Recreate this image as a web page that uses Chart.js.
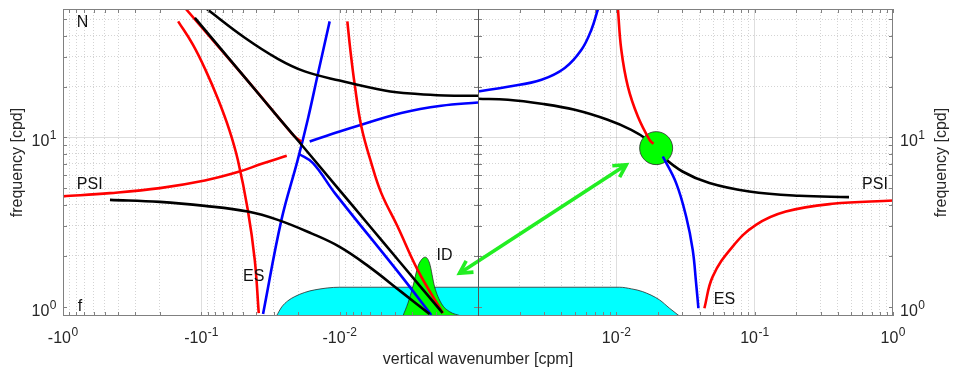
<!DOCTYPE html>
<html>
<head>
<meta charset="utf-8">
<script src="https://cdn.jsdelivr.net/npm/chart.js@4.4.1/dist/chart.umd.min.js"></script>
<style>
  html, body { margin: 0; padding: 0; background: #fff; }
  canvas { display: block; }
</style>
</head>
<body>
<canvas id="myChart" width="953" height="373"></canvas>
<script>
// vertical wavenumber k [cpm] (negative = left panel), frequency [cpd]
const blackUpperLeft = [[-0.0913, 57.5], [-0.0485, 38.9], [-0.028, 29.2], [-0.01789, 24.6], [-0.01, 21.7],
  [-0.00473, 18.97], [-0.002733, 18.06], [-0.001746, 17.72], [-0.001, 17.65]]
const blackDiagLeft = [[-0.1114, 50.9], [-0.0485, 22.65], [-0.02711, 12.85], [-0.0201, 9.63], [-0.01087, 5.285],
  [-0.006074, 2.995], [-0.003688, 1.841], [-0.001804, 0.918]]
const blackLowLeft = [[-0.4577, 4.279], [-0.1994, 4.163], [-0.0943, 3.943], [-0.04616, 3.649], [-0.028, 3.258],
  [-0.01601, 2.711], [-0.01, 2.256], [-0.006247, 1.741], [-0.003583, 1.222], [-0.00224, 0.905]]
const redDiagLeft = [[-0.1293, 57.5], [-0.0485, 22.65], [-0.02711, 12.85], [-0.02232, 10.62], [-0.02044, 9.89], [-0.0189, 9.47]]
const redSteepLeft = [[-0.1471, 48.6], [-0.1151, 35.4], [-0.0935, 25.2], [-0.07539, 16.72], [-0.06278, 11.1],
  [-0.0545, 7.38], [-0.04616, 3.734], [-0.0411, 1.889], [-0.03845, 0.914]]
const redNearLeft = [[-0.0088, 48.6], [-0.008373, 33.0], [-0.007794, 20.7], [-0.006971, 11.62], [-0.005904, 7.055],
  [-0.005, 4.688], [-0.003813, 2.974], [-0.002733, 1.649], [-0.001795, 0.914]]
const redPsiLeft = [[-1.0, 4.488], [-0.4577, 4.688], [-0.1994, 5.019], [-0.0943, 5.567], [-0.0545, 6.242],
  [-0.03657, 6.987], [-0.02413, 7.794]]
const blueEsLeft = [[-0.03579, 0.905], [-0.02636, 3.258], [-0.0201, 7.38], [-0.01702, 12.73], [-0.01441, 23.5], [-0.01181, 48.6]]
const blueUpperLeft = [[-0.01647, 9.47], [-0.01, 10.85], [-0.006971, 11.89], [-0.003583, 13.95], [-0.001843, 15.4], [-0.001, 16.11]]
const blueDiagLeft = [[-0.01977, 8.01], [-0.01559, 7.055], [-0.01087, 4.707], [-0.003688, 1.561], [-0.002178, 0.893]]

const blueUpperRight = [[0.001, 18.72], [0.001645, 19.95], [0.002879, 21.95], [0.004239, 25.75], [0.005593, 33.0],
  [0.006603, 43.4], [0.007366, 57.5]]
const blackRight = [[0.001, 16.95], [0.001645, 16.72], [0.002879, 15.83], [0.005006, 14.58], [0.008658, 12.73],
  [0.01282, 11.1], [0.01681, 9.69], [0.0194, 8.65], [0.02158, 7.72], [0.03006, 6.293], [0.04707, 5.373],
  [0.0914, 4.791], [0.2098, 4.519], [0.4808, 4.439]]
const redUpperRight = [[0.01027, 57.5], [0.01086, 33.0], [0.01212, 20.0], [0.01431, 13.31], [0.01738, 9.69], [0.01857, 9.18]]
const blueLowRight = [[0.02168, 7.72], [0.02707, 5.373], [0.03196, 3.408], [0.03566, 2.165], [0.03773, 1.375], [0.0392, 0.978]]
const redLowRight = [[0.04331, 0.978], [0.04972, 1.505], [0.0693, 2.265], [0.1022, 3.044], [0.1681, 3.649],
  [0.3645, 4.053], [1.0, 4.239]]

const cyanRegion = [[-0.02864, 0.88], [-0.02622, 0.996], [-0.02373, 1.081], [-0.02113, 1.146], [-0.01789, 1.213],
  [-0.01515, 1.256], [-0.01, 1.302], [-0.001, 1.302], [0.001, 1.302], [0.01056, 1.302], [0.01289, 1.273],
  [0.01547, 1.227], [0.02052, 1.096], [0.02423, 0.978], [0.0286, 0.88]]
const idBump = [[-0.003491, 0.88], [-0.003212, 1.047], [-0.002956, 1.313], [-0.00272, 1.725], [-0.002545, 1.908],
  [-0.002405, 1.96], [-0.00224, 1.806], [-0.002061, 1.313], [-0.001843, 1.047], [-0.001606, 0.934], [-0.001322, 0.88]]
const triad = [[0.0194, 8.65]]
const arrowEnds = [[-0.00136, 1.576], [0.0118, 6.9]]

const panelLabels = [['N', -0.723, 48.1], ['PSI', -0.641, 5.25], ['f', -0.754, 0.996], ['ES', -0.0418, 1.499],
  ['ID', -0.001746, 1.995], ['PSI', 0.741, 5.25], ['ES', 0.0604, 1.096]]

const xTickValues = [-1, -0.1, -0.01, 0.01, 0.1, 1]
const xTickLabels = [['-10', '0'], ['-10', '-1'], ['-10', '-2'], ['10', '-2'], ['10', '-1'], ['10', '0']]
const yTickValues = [1, 10]
const yTickLabels = [['10', '0'], ['10', '1']]
const yGridValues = [1, 2, 3, 4, 5, 6, 7, 8, 9, 10, 20, 30, 40, 50]
const yMin = 0.88
const yMax = 57.5
const decades = 3

const FONT = '"Liberation Sans", Arial, Helvetica, sans-serif'
const TEXT = '#262626'

// minor grid at 2..9 of each decade, both signs
const xGridValues = []
for (const s of [-1, 1]) {
  for (let e = -3; e < 0; e++) {
    for (let m = 1; m < 10; m++) {
      if (e === -3 && m === 1) continue
      xGridValues.push(s * m * Math.pow(10, e))
    }
  }
}
xGridValues.push(-1, 1)
xGridValues.sort((a, b) => a - b)

const isDecade = (v) => {
  const l = Math.log10(Math.abs(v))
  return Math.abs(l - Math.round(l)) < 1e-9
}

// mirrored log axis: -1 .. -10^-3 | 10^-3 .. 1
class SplitLogScale extends Chart.Scale {
  static id = 'splitlog'
  static defaults = {}
  determineDataLimits() {
    this.min = -1
    this.max = 1
  }
  buildTicks() {
    return xGridValues.map((v) => ({ value: v, major: isDecade(v) }))
  }
  getLabelForValue(v) {
    return String(v)
  }
  toDecimal(v) {
    const u = Math.max(0, Math.log10(Math.abs(v)) + decades)
    return (v < 0 ? -u : u) / (2 * decades) + 0.5
  }
  getPixelForValue(v) {
    return this.getPixelForDecimal(this.toDecimal(v))
  }
  getValueForPixel(p) {
    const u = (this.getDecimalForPixel(p) - 0.5) * 2 * decades
    const m = Math.pow(10, Math.abs(u) - decades)
    return u < 0 ? -m : m
  }
}
Chart.register(SplitLogScale)

Chart.defaults.font.family = FONT
Chart.defaults.font.size = 16
Chart.defaults.color = TEXT

const toXY = (pts) => pts.map(([x, y]) => ({ x, y }))
function curve(pts, color, order, extra) {
  return Object.assign({
    data: toXY(pts),
    borderColor: color,
    backgroundColor: color,
    borderWidth: 2.6,
    pointRadius: 0,
    fill: false,
    tension: 0.4,
    order: order,
  }, extra || {})
}
const areaOpts = (bg) => ({ fill: 'start', backgroundColor: bg, borderWidth: 0.8, cubicInterpolationMode: 'monotone' })

const datasets = [
  curve(redUpperRight, '#ff0000', 0),
  curve(blueUpperRight, '#0000ff', 0),
  curve(blueLowRight, '#0000ff', 0),
  curve(redLowRight, '#ff0000', 0),
  curve(triad, '#00ff00', 1, {
    showLine: false, pointRadius: 16.5, pointBackgroundColor: '#00ff00',
    pointBorderColor: '#2a2a2a', pointBorderWidth: 0.8,
  }),
  curve(blackRight, '#000000', 2),
  curve(blackUpperLeft, '#000000', 2),
  curve(blackDiagLeft, '#000000', 2),
  curve(blackLowLeft, '#000000', 2),
  curve(redDiagLeft, '#ff0000', 3),
  curve(redSteepLeft, '#ff0000', 3),
  curve(redNearLeft, '#ff0000', 3),
  curve(redPsiLeft, '#ff0000', 3),
  curve(blueEsLeft, '#0000ff', 3),
  curve(blueUpperLeft, '#0000ff', 3),
  curve(blueDiagLeft, '#0000ff', 3),
  curve(idBump, '#2a2a2a', 5, areaOpts('#00ff00')),
  curve(cyanRegion, '#2a2a2a', 6, areaOpts('#00ffff')),
]

function drawPow(ctx, base, exp, x, y, align) {
  ctx.font = '16px ' + FONT
  const wb = ctx.measureText(base).width
  ctx.font = '12px ' + FONT
  const we = ctx.measureText(exp).width
  const w = wb + we + 0.5
  const x0 = align === 'center' ? x - w / 2 : align === 'right' ? x - w : x
  ctx.textAlign = 'left'
  ctx.textBaseline = 'alphabetic'
  ctx.font = '16px ' + FONT
  ctx.fillText(base, x0, y)
  ctx.font = '12px ' + FONT
  ctx.fillText(exp, x0 + wb + 0.5, y - 7)
}

function arrowHead(ctx, tip, from, len, ang) {
  const a = Math.atan2(from[1] - tip[1], from[0] - tip[0])
  ctx.beginPath()
  ctx.moveTo(tip[0] + len * Math.cos(a + ang), tip[1] + len * Math.sin(a + ang))
  ctx.lineTo(tip[0], tip[1])
  ctx.lineTo(tip[0] + len * Math.cos(a - ang), tip[1] + len * Math.sin(a - ang))
  ctx.stroke()
}

const decor = {
  id: 'decor',
  afterDatasetsDraw(chart) {
    const { ctx, chartArea: a, scales: { x, y } } = chart
    ctx.save()

    // double arrow
    const p1 = [x.getPixelForValue(arrowEnds[0][0]), y.getPixelForValue(arrowEnds[0][1])]
    const p2 = [x.getPixelForValue(arrowEnds[1][0]), y.getPixelForValue(arrowEnds[1][1])]
    ctx.strokeStyle = '#22ee22'
    ctx.lineWidth = 3.6
    ctx.lineCap = 'butt'
    ctx.beginPath()
    ctx.moveTo(p1[0], p1[1])
    ctx.lineTo(p2[0], p2[1])
    ctx.stroke()
    arrowHead(ctx, p1, p2, 14, 0.5)
    arrowHead(ctx, p2, p1, 14, 0.5)

    // panel labels
    ctx.fillStyle = '#111'
    ctx.font = '16px ' + FONT
    ctx.textAlign = 'center'
    ctx.textBaseline = 'middle'
    panelLabels.forEach(([t, k, f]) => ctx.fillText(t, x.getPixelForValue(k), y.getPixelForValue(f)))

    // inward tick marks
    const mid = x.getPixelForValue(0.001)
    ctx.strokeStyle = '#808080'
    ctx.lineWidth = 1
    ctx.beginPath()
    yGridValues.forEach((v) => {
      const py = Math.round(y.getPixelForValue(v)) + 0.5
      ctx.moveTo(a.left, py); ctx.lineTo(a.left + 4, py)
      ctx.moveTo(a.right - 4, py); ctx.lineTo(a.right, py)
      ctx.moveTo(mid - 4, py); ctx.lineTo(mid + 4, py)
    })
    xGridValues.forEach((v) => {
      const px = Math.round(x.getPixelForValue(v)) + 0.5
      ctx.moveTo(px, a.bottom); ctx.lineTo(px, a.bottom - 4)
      ctx.moveTo(px, a.top); ctx.lineTo(px, a.top + 4)
    })
    ctx.stroke()

    // box and panel divider
    ctx.strokeRect(Math.round(a.left) + 0.5, Math.round(a.top) + 0.5, Math.round(a.width) - 1, Math.round(a.height) - 1)
    ctx.strokeStyle = '#555'
    ctx.beginPath()
    ctx.moveTo(Math.round(mid) + 0.5, a.top)
    ctx.lineTo(Math.round(mid) + 0.5, a.bottom)
    ctx.stroke()

    // tick labels
    ctx.fillStyle = TEXT
    xTickValues.forEach((v, i) => drawPow(ctx, xTickLabels[i][0], xTickLabels[i][1], x.getPixelForValue(v), a.bottom + 27, 'center'))
    yTickValues.forEach((v, i) => {
      const py = y.getPixelForValue(v) + 9
      drawPow(ctx, yTickLabels[i][0], yTickLabels[i][1], a.left - 6.5, py, 'right')
      drawPow(ctx, yTickLabels[i][0], yTickLabels[i][1], a.right + 7, py, 'left')
    })

    // right axis title, reading upwards like the left one
    ctx.font = '16px ' + FONT
    ctx.textAlign = 'center'
    ctx.textBaseline = 'middle'
    ctx.translate(942, (a.top + a.bottom) / 2)
    ctx.rotate(-Math.PI / 2)
    ctx.fillText('frequency [cpd]', 0, 0)
    ctx.restore()
  },
}

const gridColor = (c) => {
  if (!c.tick) return 'transparent'
  const v = Math.abs(c.tick.value)
  if (v === 1) return 'transparent'
  return isDecade(v) ? 'rgba(0,0,0,0.13)' : 'rgba(0,0,0,0.17)'
}
const gridDash = (c) => (c.tick && !isDecade(c.tick.value) ? [1, 2] : [])

new Chart(document.getElementById('myChart'), {
  type: 'line',
  data: { datasets },
  options: {
    responsive: false,
    animation: false,
    layout: { autoPadding: false, padding: { top: 9 } },
    elements: { line: { borderCapStyle: 'butt' }, point: { radius: 0 } },
    plugins: { legend: { display: false }, tooltip: { enabled: false } },
    scales: {
      x: {
        type: 'splitlog',
        position: 'bottom',
        grid: { color: gridColor, drawTicks: false },
        border: { display: false, dash: gridDash },
        ticks: { display: false, autoSkip: false },
        title: { display: true, text: 'vertical wavenumber [cpm]', color: TEXT, font: { size: 16 }, padding: { top: 4, bottom: 4 } },
        afterFit: (s) => { s.height = 57 },
      },
      y: {
        type: 'logarithmic',
        position: 'left',
        min: yMin,
        max: yMax,
        bounds: 'data',
        afterBuildTicks: (s) => { s.ticks = yGridValues.map((v) => ({ value: v, major: isDecade(v) })) },
        grid: { color: gridColor, drawTicks: false },
        border: { display: false, dash: gridDash },
        ticks: { display: false },
        title: { display: true, text: 'frequency [cpd]', color: TEXT, font: { size: 16 }, padding: { top: 8, bottom: 4 } },
        afterFit: (s) => { s.width = 63 },
      },
      y2: {
        type: 'logarithmic',
        position: 'right',
        min: yMin,
        max: yMax,
        bounds: 'data',
        grid: { drawOnChartArea: false, drawTicks: false },
        border: { display: false },
        ticks: { display: false },
        afterFit: (s) => { s.width = 60 },
      },
    },
  },
  plugins: [decor],
})
</script>
</body>
</html>
